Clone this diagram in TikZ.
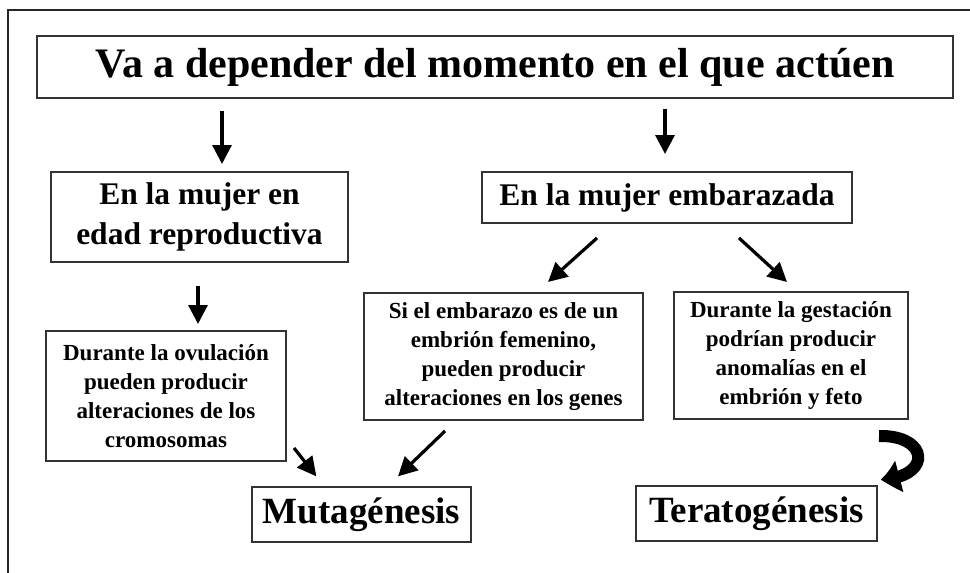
\documentclass[tikz,border=0pt]{standalone}
\usepackage{fontspec}
\setmainfont{Liberation Serif}
\usetikzlibrary{arrows.meta,bending,calc}

\begin{document}
\begin{tikzpicture}[x=1pt,y=-1pt,
    caja/.style={draw=black!80,line width=1.3pt,align=center,inner sep=0pt,font=\bfseries},
    cajita/.style={caja,line width=2pt,font=\bfseries\fontsize{23}{29}\selectfont},
    flecha/.style={-{Triangle[length=19pt,width=19pt]},line width=3.2pt}]
    \useasboundingbox (0,0) rectangle (970,573);
    % marco
    \draw[line width=2.5pt,black!85] (8,573)--(8,10)--(970,10);
    % cajas
    \node[caja,minimum width=916pt,minimum height=62pt,font=\bfseries\fontsize{42}{50}\selectfont] (titulo) at (495,67) {Va a depender del momento en el que actúen};
    \node[caja,line width=2pt,minimum width=297pt,minimum height=90pt,font=\bfseries\fontsize{31.5}{40}\selectfont] (edad) at (199.5,217) {En la mujer en\\edad reproductiva};
    \node[caja,line width=2pt,minimum width=370pt,minimum height=51pt,font=\bfseries\fontsize{31.5}{40}\selectfont] (emb) at (667,197.5) {En la mujer embarazada};
    \node[cajita,minimum width=240pt,minimum height=130pt] (ovul) at (166,396) {Durante la ovulación\\pueden producir\\alteraciones de los\\cromosomas};
    \node[cajita,minimum width=279pt,minimum height=127pt] (embrion) at (503.5,356.5) {Si el embarazo es de un\\embrión femenino,\\pueden producir\\alteraciones en los genes};
    \node[cajita,minimum width=234pt,minimum height=127pt] (gest) at (791,355.5) {Durante la gestación\\podrían producir\\anomalías en el\\embrión y feto};
    \node[caja,minimum width=219pt,minimum height=55pt,font=\bfseries\fontsize{37}{44}\selectfont] (muta) at (361.5,514.5) {Mutagénesis};
    \node[caja,minimum width=241pt,minimum height=55pt,font=\bfseries\fontsize{37}{44}\selectfont] (terato) at (756.5,513.5) {Teratogénesis};
    % flechas
    \draw[flecha,shorten <=12pt,shorten >=7pt] (222,0 |- titulo.south)--(222,0 |- edad.north);
    \draw[flecha,shorten <=10pt,shorten >=17pt] (665,0 |- titulo.south)--(665,0 |- emb.north);
    \draw[flecha,shorten <=23pt,shorten >=6pt] (198,0 |- edad.south)--(198,0 |- ovul.north);
    \draw[flecha] ([shift={(-70,14)}]emb.south)--([shift={(44.5,-10)}]embrion.north);
    \draw[flecha] ([shift={(72,14)}]emb.south)--([shift={(-4,-9)}]gest.north);
    \draw[flecha] ([shift={(7,-14)}]ovul.south east)--([shift={(65,-10)}]muta.north west);
    \draw[flecha] ([shift={(-58.5,10)}]embrion.south)--([shift={(36.5,-10)}]muta.north);
    \draw[line width=12pt,-{Triangle[length=20pt,width=30pt,bend]}] ([shift={(-30,16)}]gest.south east) .. controls (930,435) and (932,478) .. ([shift={(3,-6)}]terato.north east);
\end{tikzpicture}
\end{document}
